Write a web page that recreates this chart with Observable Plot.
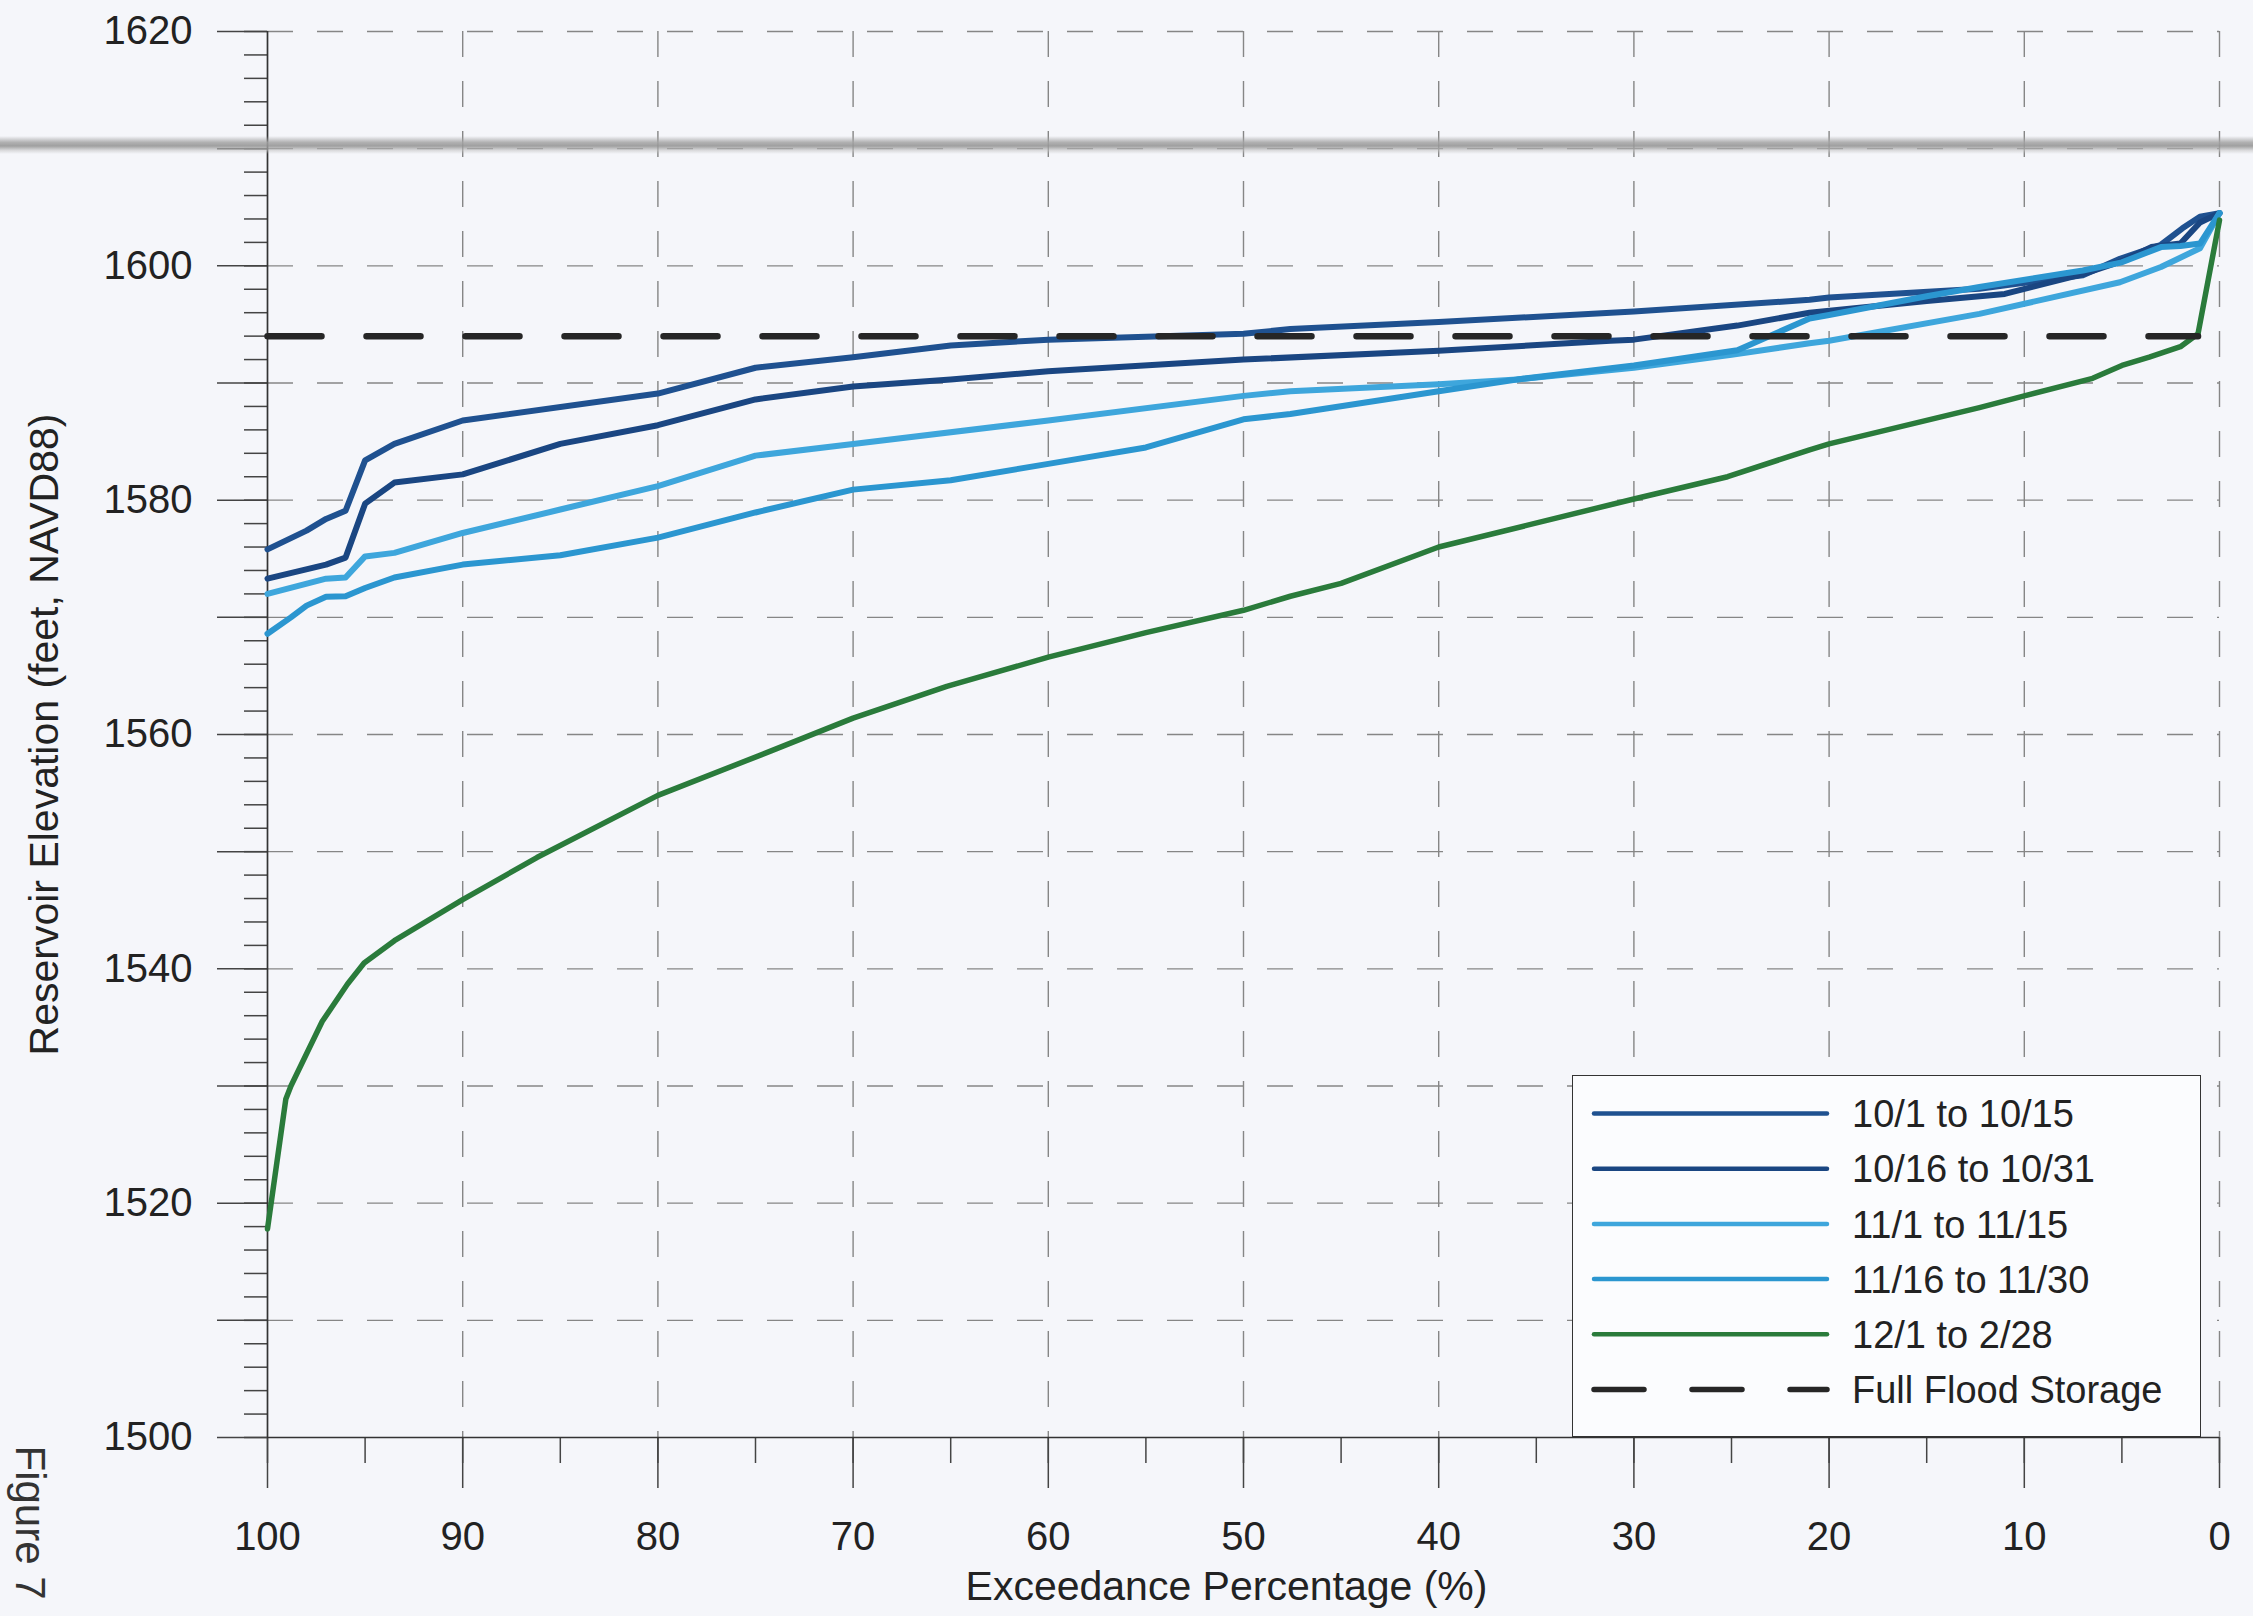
<!DOCTYPE html>
<html><head><meta charset="utf-8">
<script src="https://cdn.jsdelivr.net/npm/d3@7"></script>
<script src="https://cdn.jsdelivr.net/npm/@observablehq/plot@0.6"></script>
<style>
html,body{margin:0;padding:0;background:#f5f6fa;width:2253px;height:1616px;overflow:hidden;font-family:"Liberation Sans",Arial,sans-serif;}
#wrap{position:relative;width:2253px;height:1616px;}
#wrap > svg{position:absolute;left:0;top:0;}
#legend{position:absolute;left:1572px;top:1075px;width:629px;height:362px;background:#fbfcfe;border:1.5px solid #333;box-sizing:border-box;}
#legend svg{position:absolute;left:0;top:0;}
#scan{position:absolute;left:0;top:136px;width:2253px;height:18px;pointer-events:none;
 background:linear-gradient(to bottom, rgba(185,185,185,0), rgba(165,165,165,0.85) 35%, rgba(150,150,150,0.9) 55%, rgba(195,195,195,0.55) 80%, rgba(205,205,205,0));}
</style></head>
<body><div id="wrap"></div>
<script>
// ---- data (exceedance %, reservoir elevation ft) ----
const seriesNames = ["10/1 to 10/15", "10/16 to 10/31", "11/1 to 11/15", "11/16 to 11/30", "12/1 to 2/28", "Full Flood Storage"];
const seriesColors = ["#1f5190", "#1a4682", "#3ea6dc", "#2b96d0", "#2a7b3b", "#262626"];

const oct1to15 = [[100,1575.8],[98,1577.4],[97,1578.4],[96,1579.1],[95,1583.4],[93.5,1584.8],[90,1586.8],[80,1589.1],[75,1591.3],[70,1592.2],[65,1593.2],[60,1593.7],[50,1594.2],[47.6,1594.6],[40,1595.2],[30,1596.1],[21,1597.1],[20,1597.3],[12.3,1598.05],[7,1599.2],[5.1,1600.6],[3,1601.8],[1.9,1603.2],[1,1604.2],[0,1604.5]];
const oct16to31 = [[100,1573.3],[97,1574.5],[96,1575.1],[95,1579.7],[93.5,1581.5],[90,1582.2],[85,1584.8],[80,1586.4],[75,1588.6],[70,1589.7],[65,1590.3],[60,1591.0],[50,1592.0],[40,1592.75],[31.2,1593.6],[30,1593.7],[24.7,1594.9],[21,1596.0],[15,1597.0],[11,1597.6],[7,1599.3],[5,1600.4],[3.5,1601.6],[2,1601.9],[1,1603.7],[0,1604.5]];
const nov1to15 = [[100,1572.0],[97,1573.3],[96,1573.4],[95,1575.2],[93.5,1575.5],[90,1577.2],[85,1579.2],[80,1581.2],[75,1583.8],[70,1584.8],[60,1586.8],[50,1588.9],[47.6,1589.3],[40,1589.9],[36,1590.3],[30,1591.3],[25,1592.4],[21,1593.4],[20,1593.6],[12.3,1595.9],[5.1,1598.6],[3,1599.9],[1,1601.5],[0,1604.5]];
const nov16to30 = [[100,1568.6],[98.8,1570.0],[98,1571.0],[97,1571.75],[96,1571.8],[95,1572.5],[93.5,1573.4],[90,1574.5],[85,1575.3],[80,1576.8],[75,1578.95],[70,1580.9],[65,1581.7],[60,1583.1],[55,1584.5],[50,1586.9],[47.6,1587.35],[40,1589.3],[36,1590.3],[30,1591.5],[24.7,1592.8],[21,1595.5],[20,1595.8],[15,1597.4],[12.3,1598.2],[7,1599.6],[5,1600.3],[3,1601.6],[2,1601.7],[1,1601.9],[0,1604.5]];
const dec1tofeb28 = [[100,1517.8],[99.06,1528.9],[98.8,1530.0],[97.2,1535.5],[95.9,1538.7],[95.05,1540.5],[93.5,1542.4],[90,1545.9],[86.2,1549.5],[80,1554.8],[74.2,1558.6],[70,1561.4],[65.2,1564.1],[60,1566.6],[55,1568.7],[50,1570.6],[47.6,1571.8],[45,1572.9],[40,1576.0],[30,1580.1],[25.2,1582.0],[21,1584.3],[20,1584.8],[12.3,1587.9],[10,1588.9],[6.5,1590.4],[5,1591.5],[3.6,1592.2],[2,1593.1],[1.1,1594.2],[0,1603.9]];
const fullFloodStorage = [[100,1594],[1.1,1594]];

const series = [oct1to15, oct16to31, nov1to15, nov16to30, dec1tofeb28];

// ---- ticks ----
const xLabelTicks = d3.range(0, 101, 10);
const xMinorTicks = d3.range(0, 101, 5);
const xGridTicks = d3.range(0, 100, 10);
const yLabelTicks = d3.range(1500, 1621, 20);
const yMajorTicks = d3.range(1500, 1621, 10);
const yMinorTicks = d3.range(1500, 1621, 2);
const yGridTicks = d3.range(1510, 1621, 10);

const W = 2253, H = 1616;
const gridStyle = {stroke: "#868686", strokeOpacity: 1, strokeWidth: 1.4, strokeDasharray: "26,24"};
const blank = () => "";
const plain = d => String(d);

const lineMarks = series.map((s, i) => Plot.line(s, {
  x: d => d[0], y: d => d[1], stroke: seriesColors[i],
  strokeWidth: i === 4 ? 5.5 : 6, strokeLinejoin: "round", strokeLinecap: "round"
}));

const chart = Plot.plot({
  width: W, height: H,
  marginLeft: 267, marginRight: 34, marginTop: 31, marginBottom: 179,
  style: {background: "transparent", fontFamily: "Liberation Sans, Arial, sans-serif", color: "#222", overflow: "visible"},
  x: {domain: [100, 0], axis: null, label: null},
  y: {domain: [1500, 1620], axis: null, label: null},
  marks: [
    Plot.gridY(yGridTicks, gridStyle),
    Plot.gridX(xGridTicks, gridStyle),
    Plot.axisY(yMinorTicks, {tickSize: 23, tickFormat: blank, stroke: "#444", strokeWidth: 1.5, label: null}),
    Plot.axisY(yMajorTicks, {tickSize: 50, tickFormat: blank, stroke: "#444", strokeWidth: 1.5, label: null}),
    Plot.axisY(yLabelTicks, {tickSize: 0, tickPadding: 75, tickFormat: plain, fontSize: 40, fill: "#222", label: null}),
    Plot.axisX(xMinorTicks, {tickSize: 26, tickFormat: blank, stroke: "#444", strokeWidth: 1.5, label: null}),
    Plot.axisX(xLabelTicks, {tickSize: 51, tickFormat: blank, stroke: "#444", strokeWidth: 1.5, label: null}),
    Plot.axisX(xLabelTicks, {tickSize: 0, tickPadding: 84, tickFormat: plain, fontSize: 40, fill: "#222", label: null}),
    Plot.ruleX([100], {stroke: "#333", strokeWidth: 1.7}),
    Plot.ruleY([1500], {stroke: "#333", strokeWidth: 1.7}),
    ...lineMarks,
    Plot.line(fullFloodStorage, {x: d => d[0], y: d => d[1], stroke: seriesColors[5], strokeWidth: 6.5, strokeDasharray: "54,45"}),
    Plot.text(["Exceedance Percentage (%)"], {text: d => d, frameAnchor: "bottom", textAnchor: "middle", lineAnchor: "middle", dx: -17, dy: 149, fontSize: 41, fill: "#222"}),
    Plot.text(["Reservoir Elevation (feet, NAVD88)"], {text: d => d, frameAnchor: "left", textAnchor: "middle", lineAnchor: "middle", rotate: -90, dx: -223, fontSize: 41, fill: "#222"}),
    Plot.text(["Figure 7"], {text: d => d, frameAnchor: "bottom-left", rotate: 90, dx: -252, dy: 8, textAnchor: "start", lineAnchor: "bottom", fontSize: 42, fill: "#333"})
  ]
});

const wrap = document.getElementById("wrap");
wrap.appendChild(chart);

// scan fold band
const scan = document.createElement("div");
scan.id = "scan";
wrap.appendChild(scan);

// legend
const leg = document.createElement("div");
leg.id = "legend";
wrap.appendChild(leg);
const lsvg = d3.select(leg).append("svg").attr("width", 626).attr("height", 359)
  .style("font-family", "Liberation Sans, Arial, sans-serif");
seriesNames.forEach((name, i) => {
  const y = 37.5 + i * 55.2;
  const ln = lsvg.append("line").attr("x1", 21).attr("x2", 254).attr("y1", y).attr("y2", y)
    .attr("stroke", seriesColors[i]).attr("stroke-linecap", "round");
  if (i === 5) ln.attr("stroke-width", 5.5).attr("stroke-dasharray", "50,48");
  else ln.attr("stroke-width", 4.5);
  lsvg.append("text").attr("x", 279).attr("y", y).attr("dy", "0.36em")
    .attr("font-size", 38).attr("fill", "#222").text(name);
});
</script>
</body></html>
